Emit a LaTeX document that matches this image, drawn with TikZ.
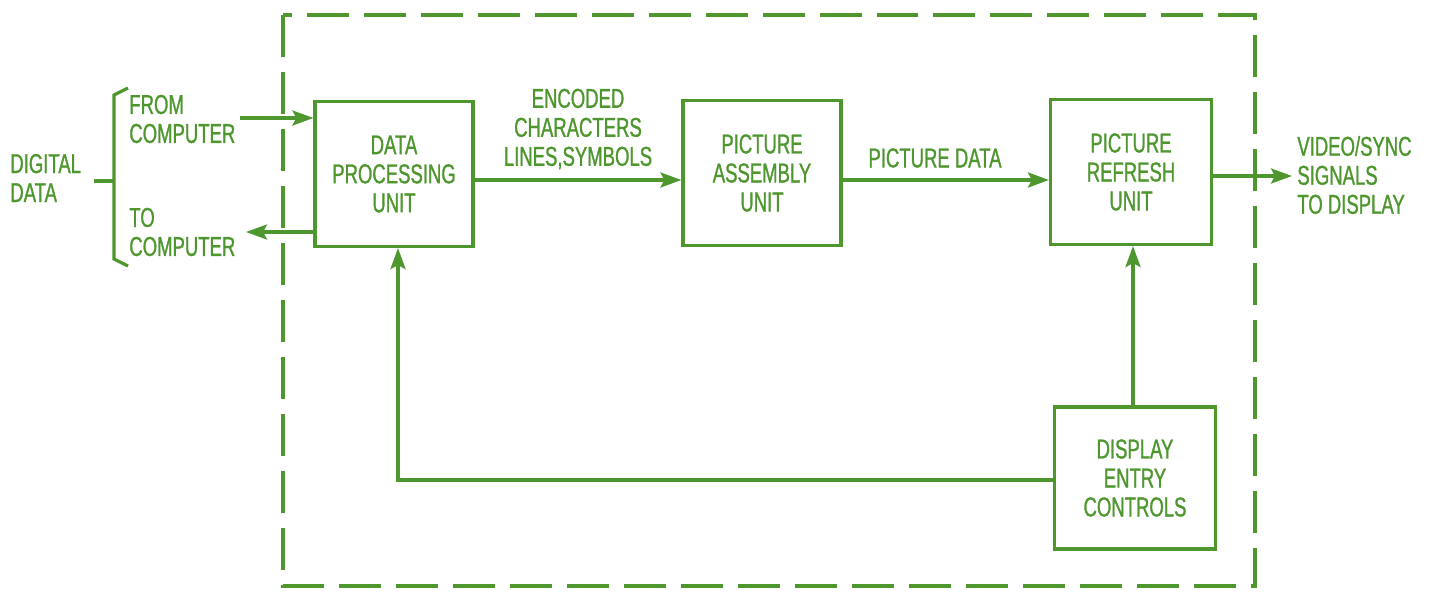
\documentclass[tikz,border=0pt]{standalone}
\usepackage{fontspec}
\setmainfont{Liberation Sans}[FakeStretch=0.68,FakeBold=1]
\usepackage{xcolor}
\usetikzlibrary{arrows.meta}
\definecolor{DispGreen}{RGB}{78,150,46}

\begin{document}
\begin{tikzpicture}[x=0.02cm,y=-0.02cm,
  every node/.style={text=DispGreen,font=\fontsize{15.5}{16.5}\selectfont,align=center,inner sep=0pt},
  unit/.style={draw=DispGreen,line width=1.8pt,minimum width=3.16cm,minimum height=2.9cm},
  wire/.style={draw=DispGreen,line width=1.8pt,->,>={Stealth[length=0.42cm,width=0.3cm,inset=0.08cm]}},
  label/.style={align=left,anchor=west}]
\useasboundingbox (0,0) rectangle (1434,592);
% dashed outline of the display unit
\draw[DispGreen,line width=2.8pt,dash pattern=on 0.84cm off 0.3cm] (283,15) rectangle (1255,586);
%
\node[unit] (dpu) at (394,174) {DATA\\PROCESSING\\UNIT};
\node[unit] (pau) at (762,173) {PICTURE\\ASSEMBLY\\UNIT};
\node[unit,minimum width=3.22cm] (pru) at (1131,172) {PICTURE\\REFRESH\\UNIT};
\node[unit,minimum width=3.22cm,minimum height=2.84cm] (dec) at (1135,478) {DISPLAY\\ENTRY\\CONTROLS};
%
\node[label] (dig) at (10,178) {DIGITAL\\DATA};
\node[label] (fromc) at (129,119) {FROM\\COMPUTER};
\node[label] (toc) at (129,232) {TO\\COMPUTER};
\node (enc) at (578,129) {ENCODED\\CHARACTERS\\LINES,SYMBOLS};
\node (picd) at (935,158) {PICTURE DATA};
\node[label] (vid) at (1297,175) {VIDEO/SYNC\\SIGNALS\\TO DISPLAY};
%
% bracket
\draw[DispGreen,line width=1.8pt] (128,88) -- (114,95) -- (114,259) -- (128,266);
\draw[DispGreen,line width=1.8pt] (94,181) -- (114,181);
%
\coordinate (inC) at (240,118);
\coordinate (outC) at (246,232);
\coordinate (outV) at (1292,176);
\draw[wire] (inC) -- (inC -| dpu.west);
\draw[wire] (outC -| dpu.west) -- (outC);
\draw[wire] (dpu.east |- 0,180) -- (pau.west |- 0,180);
\draw[wire] (pau.east |- 0,180) -- (pru.west |- 0,180);
\draw[wire] (outV -| pru.east) -- (outV);
\draw[wire] (dec.north -| 1133,0) -- (pru.south -| 1133,0);
\draw[wire] (dec.west |- 0,480) -- (398,480) -- (dpu.south -| 398,0);
\end{tikzpicture}
\end{document}
